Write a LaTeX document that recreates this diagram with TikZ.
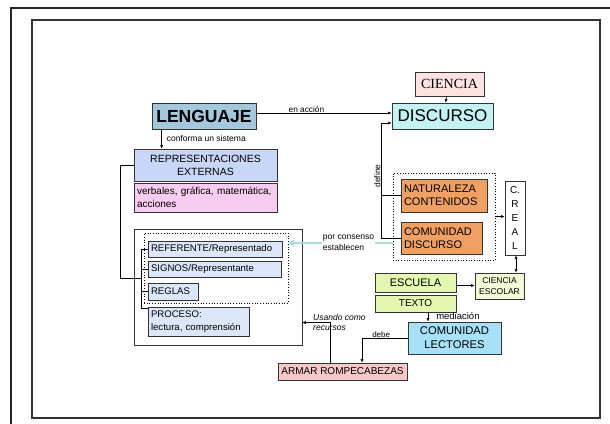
\documentclass[tikz,border=0pt]{standalone}
\usepackage{fontspec}
\setmainfont{Liberation Sans}
\newfontfamily\serifa{Liberation Serif}
\usetikzlibrary{arrows.meta}

\definecolor{cLenguaje}{HTML}{A3C8DC}
\definecolor{cDiscurso}{HTML}{C4F2F2}
\definecolor{cCiencia}{HTML}{FDE2E2}
\definecolor{cRepres}{HTML}{C8D6F8}
\definecolor{cVerbales}{HTML}{F8CCF0}
\definecolor{cSigno}{HTML}{DCE6FA}
\definecolor{cNatural}{HTML}{F0A062}
\definecolor{cEscuela}{HTML}{E4F7B0}
\definecolor{cEscolar}{HTML}{F2FAD8}
\definecolor{cLectores}{HTML}{A8E0F8}
\definecolor{cArmar}{HTML}{F8C8C8}
\definecolor{cConsenso}{HTML}{A8DCE2}

\begin{document}
\begin{tikzpicture}[x=1pt, y=-1pt,
  caja/.style = {draw=black!80, line width=0.8pt, inner sep=0pt, align=center},
  izq/.style = {align=left, inner xsep=3pt},
  etiqueta/.style = {inner sep=1pt, font=\fontsize{8}{9.5}\selectfont},
  flecha/.style = {-{Latex[length=3.5pt,width=3pt]}, line width=0.5pt},
  punteado/.style = {draw, dotted, line width=0.7pt, inner sep=0pt},
  consenso/.style = {line width=2pt, cConsenso, -{Triangle[length=6pt,width=7pt]}}]
  \useasboundingbox (0,0) rectangle (610,423);
  % marcos
  \draw[line width=1.2pt, black!85] (11,430) -- (11,8) -- (615,8);
  \draw[line width=1.3pt, black!80] (32,20) rectangle (600,418);

  % parte superior
  \node[caja, fill=cCiencia, minimum width=69pt, minimum height=24pt,
    font=\serifa\fontsize{14}{16}\selectfont] (ciencia) at (449.5,84) {CIENCIA};
  \node[caja, fill=cDiscurso, minimum width=101pt, minimum height=26pt,
    font=\fontsize{17}{20}\selectfont] (discurso) at (442.5,116) {DISCURSO};
  \node[caja, fill=cLenguaje, minimum width=104pt, minimum height=26pt,
    font=\bfseries\fontsize{17.5}{20}\selectfont] (lenguaje) at (204,116) {LENGUAJE};
  \node[caja, fill=cRepres, minimum width=143pt, minimum height=32pt,
    font=\fontsize{10.5}{13}\selectfont] (repres) at (205.5,165)
    {REPRESENTACIONES\\EXTERNAS};
  \node[caja, izq, fill=cVerbales, text width=137pt, minimum height=29pt,
    font=\fontsize{10}{12.5}\selectfont] (verbales) at (205.5,197.5)
    {verbales, gráfica, matemática,\\acciones};

  % sistema de representacion
  \node[caja, minimum width=168pt, minimum height=116pt] (recuadro) at (218,287) {};
  \node[punteado, minimum width=144pt, minimum height=70pt] (grupo) at (216,268) {};
  \node[caja, izq, fill=cSigno, text width=128pt, minimum height=16pt,
    font=\fontsize{9.6}{11}\selectfont] (referente) at (215,249) {REFERENTE/Representado};
  \node[caja, izq, fill=cSigno, text width=127pt, minimum height=16pt,
    font=\fontsize{9.6}{11}\selectfont] (signos) at (214.5,269) {SIGNOS/Representante};
  \node[caja, izq, fill=cSigno, text width=44pt, minimum height=17pt,
    font=\fontsize{9.6}{11}\selectfont] (reglas) at (173,291.5) {REGLAS};
  \node[caja, izq, fill=cSigno, text width=95pt, minimum height=29pt,
    font=\fontsize{9.6}{12.5}\selectfont] (proceso) at (198.5,321.5)
    {PROCESO:\\lectura, comprensión};

  % discurso
  \node[punteado, minimum width=102pt, minimum height=87pt] (grupo2) at (444,216.5) {};
  \node[caja, izq, fill=cNatural, text width=80pt, minimum height=33pt,
    font=\fontsize{11}{13.5}\selectfont] (natural) at (444,195.5)
    {NATURALEZA\\CONTENIDOS};
  \node[caja, izq, fill=cNatural, text width=75pt, minimum height=32pt,
    font=\fontsize{11}{13.5}\selectfont] (comdisc) at (441.5,238)
    {COMUNIDAD\\DISCURSO};
  \node[caja, fill=white, minimum width=20pt, minimum height=74pt,
    font=\fontsize{10}{14}\selectfont] (creal) at (515,218) {C.\\R\\E\\A\\L};
  \node[caja, fill=cEscolar, minimum width=49pt, minimum height=26pt,
    font=\fontsize{8.5}{10.5}\selectfont] (escolar) at (499.5,286) {CIENCIA\\ESCOLAR};
  \node[caja, fill=cEscuela, minimum width=81pt, minimum height=19pt,
    font=\fontsize{11}{13}\selectfont] (escuela) at (415.5,282.5) {ESCUELA};
  \node[caja, fill=cEscuela, minimum width=81pt, minimum height=17pt,
    font=\fontsize{10}{12}\selectfont] (texto) at (415.5,303.5) {TEXTO};
  \node[caja, fill=cLectores, minimum width=93pt, minimum height=32pt,
    font=\fontsize{11.2}{14}\selectfont] (lectores) at (454.5,338)
    {COMUNIDAD\\LECTORES};
  \node[caja, fill=cArmar, minimum width=129pt, minimum height=17pt,
    font=\fontsize{10}{12}\selectfont] (armar) at (342.5,371.5) {ARMAR ROMPECABEZAS};

  % conexiones
  \draw[flecha] (ciencia) -- (discurso);
  \draw[flecha] ([yshift=3pt]lenguaje.east) -- ([yshift=3pt]discurso.west)
    node[etiqueta, pos=0.37, above, inner sep=0.5pt, font=\fontsize{8.3}{10}\selectfont] {en acción};
  \draw[flecha] ([xshift=10pt]lenguaje.south west) -- ([xshift=10pt]lenguaje.south west |- repres.north)
    node[etiqueta, pos=0.45, right, xshift=4pt, font=\fontsize{8.5}{10}\selectfont] {conforma un sistema};
  \draw (referente.west) -- ++(-6,0) coordinate (llave) |- ([yshift=-2pt]proceso.north west);
  \draw (llave |- signos.west) -- (signos.west);
  \draw (llave |- reglas.west) -- (reglas.west);
  \draw (repres.west) -- ++(-13,0) |- ([yshift=-1pt]llave |- signos.south);

  \coordinate (cons) at ([yshift=-5pt]comdisc.west);
  \draw[consenso] (cons -| grupo2.west) -- (cons -| grupo.east)
    node[etiqueta, pos=0.5, xshift=8pt, fill=white, text=black, align=left,
      font=\fontsize{8.5}{10.5}\selectfont] {por consenso\\establecen};

  \draw[flecha] (comdisc.west) -- ++(-19,0) coordinate (def) |- ([yshift=-7pt]discurso.west);
  \draw (natural.west) -- (natural.west -| def);
  \node[etiqueta, rotate=90, anchor=south, font=\fontsize{8.5}{10}\selectfont]
    (define) at ([yshift=62pt]def) {define};

  \draw[flecha] (grupo2.east) -- (grupo2.east -| creal.west);
  \draw[{Latex[length=3.5pt,width=3pt]}-{Latex[length=3.5pt,width=3pt]}, line width=0.5pt]
    ([xshift=1pt]creal.south) -- ([xshift=1pt]creal.south |- escolar.north);
  \draw[flecha] ([yshift=-3pt]escuela.east) -- ([yshift=-3pt]escuela.east -| escolar.west);
  \draw[flecha] ([xshift=12.5pt]texto.south) -- ([xshift=12.5pt]texto.south |- lectores.north)
    node[etiqueta, pos=0.4, right, xshift=7pt, font=\fontsize{9.5}{11}\selectfont] {mediación};
  \draw[flecha] (lectores.west) -| ([xshift=19.5pt]armar.north)
    node[etiqueta, pos=0.29, above, inner sep=0.3pt] {debe};
  \draw[flecha] ([xshift=-12.5pt]armar.north) -- ++(0,-40) coordinate (uso) -- (uso -| recuadro.east);
  \node[etiqueta, anchor=west, align=left, font=\itshape\fontsize{8.5}{10.5}\selectfont]
    (usando) at ([xshift=-18pt]uso) {Usando como\\recursos};
\end{tikzpicture}
\end{document}
